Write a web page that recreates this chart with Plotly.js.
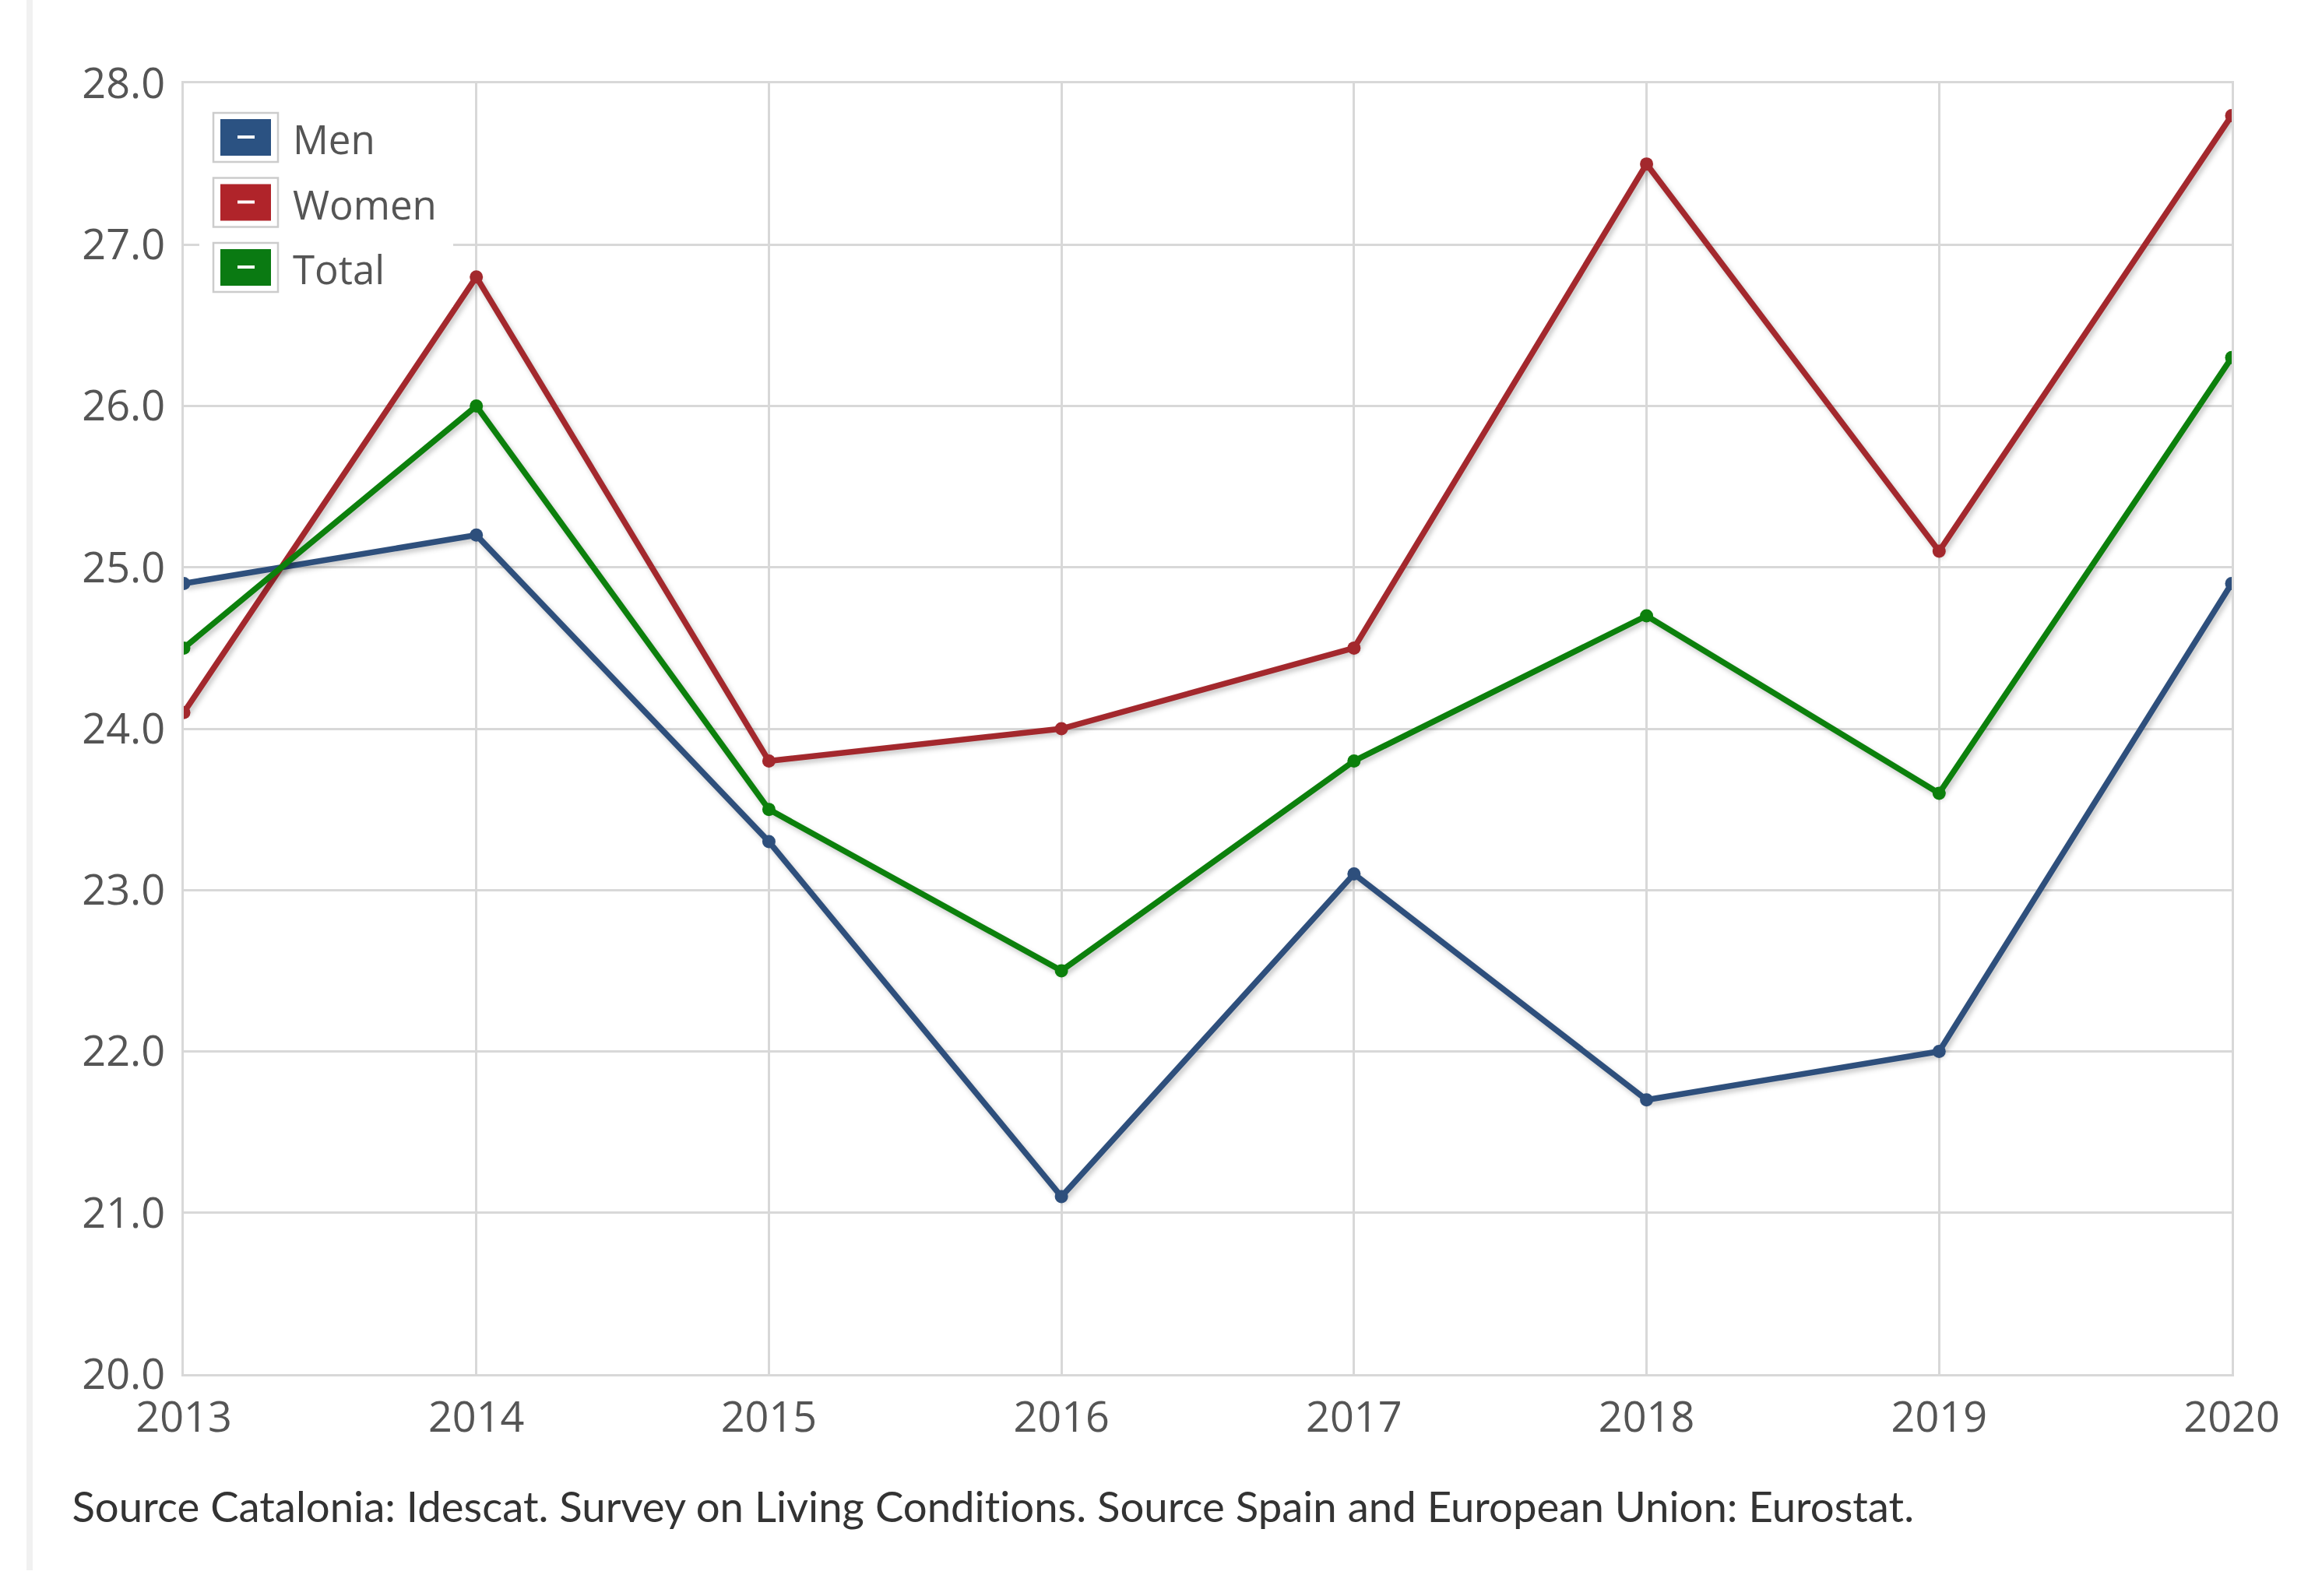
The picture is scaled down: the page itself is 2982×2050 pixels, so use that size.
<!DOCTYPE html>
<html>
<head>
<meta charset="utf-8">
<script src="https://cdn.plot.ly/plotly-3.0.1.min.js"></script>
<style>
  html, body { margin: 0; padding: 0; background: #ffffff; }
  #chart { width: 2982px; height: 2050px; }
  #chart text {
    font-variant-ligatures: none !important;
    font-feature-settings: "liga" 0, "clig" 0, "dlig" 0 !important;
  }
  #chart .scatterlayer .trace path.js-line {
    filter: drop-shadow(3px 4px 3px rgba(0,0,0,0.22));
  }
</style>
</head>
<body>
<div id="chart"></div>
<script>
// ---- data ----
const years = [2013, 2014, 2015, 2016, 2017, 2018, 2019, 2020];
const seriesNames = ["Men", "Women", "Total"];
const men   = [24.9, 25.2, 23.3, 21.1, 23.1, 21.7, 22.0, 24.9];
const women = [24.1, 26.8, 23.8, 24.0, 24.5, 27.5, 25.1, 27.8];
const total = [24.5, 26.0, 23.5, 22.5, 23.8, 24.7, 23.6, 26.3];
const yTicks = [20, 21, 22, 23, 24, 25, 26, 27, 28];
const sourceNote = "Source Catalonia: Idescat. Survey on Living Conditions. Source Spain and European Union: Eurostat.";

// ---- styles ----
const W = 2982, H = 2050;
const M = { l: 236, r: 116, t: 107, b: 285 };
const lineColors = ["#2e4f7c", "#a3282d", "#0c800c"];
const fillColors = ["#2b5282", "#b0242a", "#0a7a12"];
const gridColor = "#d8d8d8";
const tickFont = { family: "Open Sans, sans-serif", size: 54, color: "#555555" };

const plotW = W - M.l - M.r, plotH = H - M.t - M.b;
const px = x => (x - M.l) / plotW;
const py = y => (M.t + plotH - y) / plotH;

const dataSeries = [men, women, total];
const traces = dataSeries.map((vals, i) => ({
  type: "scatter",
  mode: "lines+markers",
  name: seriesNames[i],
  x: years,
  y: vals,
  line: { color: lineColors[i], width: 7.5 },
  marker: { color: lineColors[i], size: 17 },
  showlegend: false,
  hoverinfo: "x+y+name"
}));

// manual legend (coloured boxes like the original)
const shapes = [];
const annotations = [];
// faint frame line on the left of the page
shapes.push({ type: "line", xref: "paper", yref: "paper",
  x0: px(38), x1: px(38), y0: py(0), y1: py(2017),
  line: { color: "#f1f1f1", width: 8 }, layer: "below" });
// legend background
shapes.push({ type: "rect", xref: "paper", yref: "paper",
  x0: px(256), x1: px(582), y0: py(126), y1: py(394),
  fillcolor: "#ffffff", line: { width: 0 }, layer: "above" });
const rowTop = [145, 228.5, 312];
seriesNames.forEach((nm, i) => {
  const t = rowTop[i];
  shapes.push({ type: "rect", xref: "paper", yref: "paper",
    x0: px(274), x1: px(357), y0: py(t), y1: py(t + 63),
    fillcolor: "#ffffff", line: { color: "#cccccc", width: 2.5 }, layer: "above" });
  shapes.push({ type: "rect", xref: "paper", yref: "paper",
    x0: px(283), x1: px(348), y0: py(t + 8), y1: py(t + 55),
    fillcolor: fillColors[i], line: { width: 0 }, layer: "above" });
  shapes.push({ type: "line", xref: "paper", yref: "paper",
    x0: px(305), x1: px(327), y0: py(t + 31), y1: py(t + 31),
    line: { color: "#ffffff", width: 4 }, layer: "above" });
  annotations.push({ xref: "paper", yref: "paper", x: px(374), y: py(t + 33),
    xanchor: "left", yanchor: "middle", showarrow: false, text: nm,
    font: { family: "Open Sans, sans-serif", size: 51, color: "#555555" } });
});
annotations.push({ xref: "paper", yref: "paper", x: px(90), y: py(1934),
  xanchor: "left", yanchor: "middle", showarrow: false, text: sourceNote,
  font: { family: "Lato, sans-serif", size: 54.5, color: "#333333" } });

const layout = {
  width: W, height: H,
  margin: M,
  paper_bgcolor: "#ffffff",
  plot_bgcolor: "#ffffff",
  showlegend: false,
  xaxis: {
    type: "linear",
    range: [2013, 2020],
    tickvals: years,
    ticktext: years.map(String),
    showgrid: true, gridcolor: gridColor, gridwidth: 3,
    showline: true, linecolor: gridColor, linewidth: 3, mirror: true,
    zeroline: false,
    ticks: "outside", ticklen: 6, tickcolor: "rgba(0,0,0,0)",
    tickfont: tickFont
  },
  yaxis: {
    range: [20, 28],
    tickvals: yTicks,
    ticktext: yTicks.map(v => v.toFixed(1)),
    showgrid: true, gridcolor: gridColor, gridwidth: 3,
    showline: true, linecolor: gridColor, linewidth: 3, mirror: true,
    zeroline: false,
    ticks: "outside", ticklen: 10, tickcolor: "rgba(0,0,0,0)",
    tickfont: tickFont
  },
  shapes: shapes,
  annotations: annotations
};

Plotly.newPlot("chart", traces, layout, { displayModeBar: false, staticPlot: true });
</script>
</body>
</html>
